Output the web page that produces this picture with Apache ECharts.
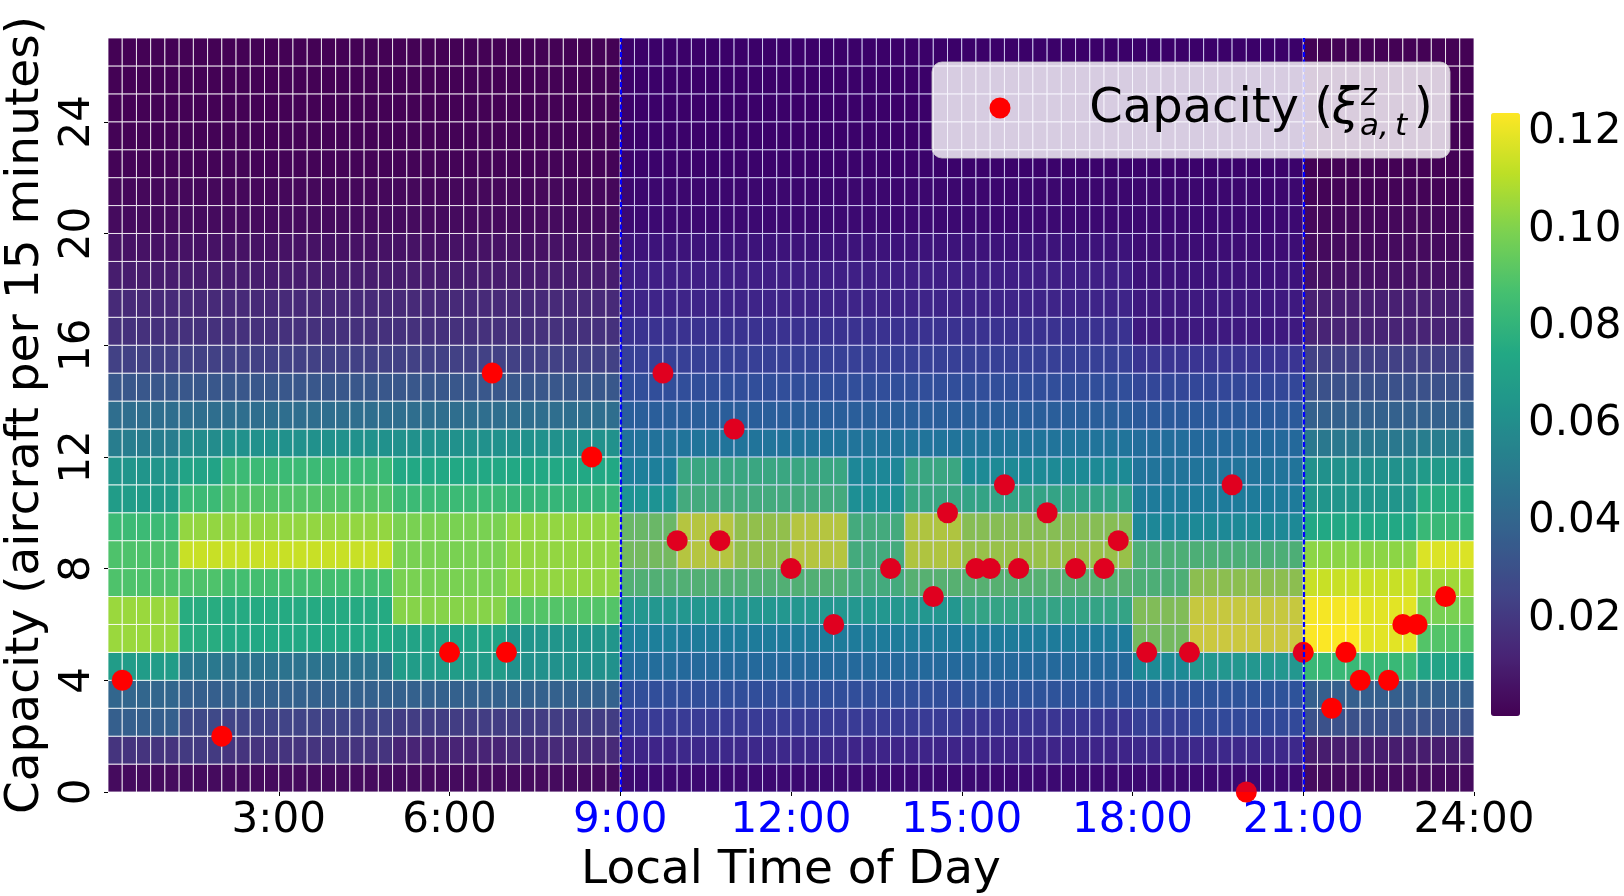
<!DOCTYPE html>
<html>
<head>
<meta charset="utf-8">
<title>Capacity distribution by local time of day</title>
<script src="https://cdn.jsdelivr.net/npm/echarts@6/dist/echarts.min.js"></script>
<style>
  html, body { margin: 0; padding: 0; background: #fff; }
  #chart { width: 1624px; height: 896px; }
</style>
</head>
<body>
<div id="chart"></div>
<script>
// hours at which the capacity distribution changes (each block runs to the next start, last to 24:00)
var blockStarts = [0, 1.25, 2, 5, 7, 9, 10, 11, 12, 13, 14, 15, 18, 19, 21, 22, 23];

// probability for capacity rows 0..12, one array per block
var low0000 = [0.0037, 0.0185, 0.0371, 0.0408, 0.0680, 0.1051, 0.1051, 0.0890, 0.0890, 0.0840, 0.0680, 0.0643, 0.0519];
var low0115 = [0.0037, 0.0210, 0.0272, 0.0371, 0.0494, 0.0766, 0.0766, 0.0890, 0.1137, 0.1038, 0.0840, 0.0717, 0.0593];
var low0200 = [0.0037, 0.0185, 0.0247, 0.0383, 0.0470, 0.0742, 0.0754, 0.0865, 0.1137, 0.1038, 0.0902, 0.0840, 0.0618];
var low0500 = [0.0037, 0.0124, 0.0222, 0.0383, 0.0680, 0.0717, 0.1014, 0.0989, 0.0989, 0.0989, 0.0840, 0.0742, 0.0618];
var low0700 = [0.0037, 0.0148, 0.0222, 0.0383, 0.0618, 0.0643, 0.0902, 0.1038, 0.1038, 0.1038, 0.0816, 0.0742, 0.0618];
var low0900 = [0.0037, 0.0148, 0.0247, 0.0346, 0.0519, 0.0618, 0.0766, 0.0927, 0.1014, 0.0989, 0.0742, 0.0618, 0.0544];
var low1000 = [0.0037, 0.0161, 0.0247, 0.0346, 0.0494, 0.0593, 0.0766, 0.0927, 0.1149, 0.1149, 0.0890, 0.0865, 0.0556];
var low1100 = [0.0037, 0.0161, 0.0247, 0.0346, 0.0494, 0.0593, 0.0766, 0.0927, 0.1075, 0.1075, 0.0890, 0.0865, 0.0556];
var low1200 = [0.0037, 0.0161, 0.0247, 0.0346, 0.0494, 0.0593, 0.0766, 0.0927, 0.1149, 0.1149, 0.0890, 0.0865, 0.0556];
var low1300 = [0.0037, 0.0148, 0.0247, 0.0346, 0.0494, 0.0593, 0.0766, 0.0890, 0.0890, 0.0890, 0.0717, 0.0667, 0.0556];
var low1400 = [0.0037, 0.0148, 0.0247, 0.0346, 0.0494, 0.0593, 0.0766, 0.0939, 0.1137, 0.1137, 0.0865, 0.0865, 0.0556];
var low1500 = [0.0037, 0.0148, 0.0222, 0.0371, 0.0494, 0.0593, 0.0840, 0.0939, 0.1088, 0.1051, 0.0840, 0.0692, 0.0556];
var low1800 = [0.0037, 0.0161, 0.0272, 0.0371, 0.0692, 0.1014, 0.1038, 0.0915, 0.0915, 0.0667, 0.0593, 0.0556, 0.0519];
var low1900 = [0.0037, 0.0161, 0.0321, 0.0371, 0.0766, 0.1199, 0.1187, 0.1063, 0.0915, 0.0680, 0.0593, 0.0556, 0.0494];
var low2100 = [0.0037, 0.0099, 0.0309, 0.0371, 0.0828, 0.1236, 0.1224, 0.1137, 0.1026, 0.0742, 0.0643, 0.0618, 0.0494];
var low2200 = [0.0037, 0.0099, 0.0309, 0.0371, 0.0828, 0.1187, 0.1187, 0.1137, 0.1026, 0.0742, 0.0643, 0.0618, 0.0494];
var low2300 = [0.0037, 0.0099, 0.0309, 0.0371, 0.0717, 0.0902, 0.0989, 0.1063, 0.1174, 0.0828, 0.0766, 0.0667, 0.0519];

// probability for capacity rows 13..26
var nightTail   = [0.0445, 0.0334, 0.0235, 0.0173, 0.0148, 0.0099, 0.0062, 0.0037, 0.0025, 0.0012, 0.0006, 0.0004, 0.0003, 0.0002];
var dayTail     = [0.0433, 0.0346, 0.0272, 0.0210, 0.0148, 0.0124, 0.0074, 0.0037, 0.0025, 0.0012, 0.0006, 0.0004, 0.0003, 0.0002];
var eveningTail = [0.0408, 0.0309, 0.0222, 0.0099, 0.0099, 0.0074, 0.0049, 0.0037, 0.0025, 0.0012, 0.0006, 0.0004, 0.0003, 0.0002];
var lateTail    = [0.0383, 0.0309, 0.0235, 0.0124, 0.0111, 0.0062, 0.0037, 0.0025, 0.0012, 0.0004, 0.0003, 0.0002, 0.0002, 0.0002];

var blockLows = [low0000, low0115, low0200, low0500, low0700, low0900, low1000, low1100, low1200,
                 low1300, low1400, low1500, low1800, low1900, low2100, low2200, low2300];
var blockTails = [nightTail, nightTail, nightTail, nightTail, nightTail,
                  dayTail, dayTail, dayTail, dayTail, dayTail, dayTail, dayTail,
                  eveningTail, eveningTail, lateTail, lateTail, lateTail];

// observed capacity points (red dots)
var capTimes  = [0.25, 2, 6, 6.75, 7, 8.5, 9.75, 10, 10.75, 11, 12, 12.75, 13.75, 14.5, 14.75, 15.25, 15.5, 15.75,
                 16, 16.5, 17, 17.5, 17.75, 18.25, 19, 19.75, 20, 21, 21.5, 21.75, 22, 22.5, 22.75, 23, 23.5];
var capValues = [4, 2, 5, 15, 5, 12, 15, 9, 9, 13, 8, 6, 8, 7, 10, 8, 8, 11,
                 8, 10, 8, 8, 9, 5, 5, 11, 0, 5, 3, 5, 4, 4, 6, 6, 7];

var peakHours = [9, 21];
var xTicks = [3, 6, 9, 12, 15, 18, 21, 24];
var yTicks = [0, 4, 8, 12, 16, 20, 24];
var cbTicks = [0.02, 0.04, 0.06, 0.08, 0.10, 0.12];

var viridis = ['#440154', '#482475', '#414487', '#355f8d', '#2a788e', '#21918c',
               '#22a884', '#44bf70', '#7ad151', '#bddf26', '#fde725'];

var cells = [];
blockStarts.forEach(function (start, b) {
  var end = b + 1 < blockStarts.length ? blockStarts[b + 1] : 24;
  var profile = blockLows[b].concat(blockTails[b]);
  for (var t = start; t < end - 1e-9; t += 0.25) {
    profile.forEach(function (v, row) { cells.push([t, row, v]); });
  }
});

var points = capTimes.map(function (t, i) { return [t, capValues[i]]; });

var font = 'DejaVu Sans';
var chart = echarts.init(document.getElementById('chart'));

chart.setOption({
  animation: false,
  backgroundColor: '#fff',
  grid: [
    { left: 108, top: 38, width: 1366, height: 754, outerBoundsMode: 'none' },
    { left: 1491, top: 113, width: 29, height: 603, outerBoundsMode: 'none' }
  ],
  xAxis: [{
    type: 'value', gridIndex: 0, min: 0, max: 24,
    name: 'Local Time of Day', nameLocation: 'middle', nameGap: 48,
    nameTextStyle: { fontSize: 47, color: '#000', fontFamily: font },
    axisLine: { show: false },
    splitLine: { show: false },
    axisTick: { show: true, length: 4, customValues: xTicks, lineStyle: { color: '#000' } },
    axisLabel: {
      customValues: xTicks, margin: 8, fontSize: 42, fontFamily: font, color: '#000',
      formatter: function (v) {
        var peak = v >= peakHours[0] && v <= peakHours[1];
        return (peak ? '{b|' : '{k|') + v + ':00}';
      },
      rich: {
        b: { color: '#0000ff', fontSize: 42, fontFamily: font },
        k: { color: '#000', fontSize: 42, fontFamily: font }
      }
    }
  }, {
    type: 'value', gridIndex: 1, show: false, min: 0, max: 1
  }],
  yAxis: [{
    type: 'value', gridIndex: 0, min: 0, max: 27,
    name: 'Capacity (aircraft per 15 minutes)', nameLocation: 'middle', nameGap: 54,
    nameTextStyle: { fontSize: 47, color: '#000', fontFamily: font },
    axisLine: { show: false },
    splitLine: { show: false },
    axisTick: { show: true, length: 4, customValues: yTicks, lineStyle: { color: '#000' } },
    axisLabel: { customValues: yTicks, rotate: 90, margin: 9, fontSize: 42, fontFamily: font, color: '#000' }
  }, {
    type: 'value', gridIndex: 1, position: 'right', min: 0, max: 0.124,
    axisLine: { show: false },
    splitLine: { show: false },
    axisTick: { show: true, length: 4, customValues: cbTicks, lineStyle: { color: '#000' } },
    axisLabel: {
      customValues: cbTicks, margin: 8, fontSize: 42, fontFamily: font, color: '#000',
      formatter: function (v) { return v.toFixed(2); }
    }
  }],
  visualMap: {
    type: 'continuous', min: 0, max: 0.124, dimension: 2, seriesIndex: 0,
    calculable: false, orient: 'vertical', left: 1491, top: 113, padding: 0,
    itemWidth: 29, itemHeight: 603, text: null,
    inRange: { color: viridis }
  },
  series: [{
    type: 'custom', name: 'probability', xAxisIndex: 0, yAxisIndex: 0, z: 1,
    clip: true, silent: true,
    encode: { x: 0, y: 1 },
    data: cells,
    renderItem: function (params, api) {
      var x = api.value(0), y = api.value(1);
      var p0 = api.coord([x, y + 1]);
      var p1 = api.coord([x + 0.25, y]);
      return {
        type: 'rect',
        shape: { x: p0[0], y: p0[1], width: p1[0] - p0[0], height: p1[1] - p0[1] },
        style: { fill: api.visual('color'), stroke: 'rgba(255,255,255,0.8)', lineWidth: 1 }
      };
    }
  }, {
    type: 'scatter', name: 'Capacity', xAxisIndex: 0, yAxisIndex: 0, z: 2,
    symbol: 'circle', symbolSize: 21,
    itemStyle: { color: '#ff0000', opacity: 1 },
    data: points
  }, {
    type: 'custom', name: 'peak', xAxisIndex: 0, yAxisIndex: 0, z: 3,
    silent: true, clip: true,
    data: [[peakHours[0], peakHours[1]]],
    renderItem: function (params, api) {
      var p0 = api.coord([api.value(0), 27]);
      var p1 = api.coord([api.value(1), 0]);
      return {
        type: 'rect',
        shape: { x: p0[0], y: p0[1], width: p1[0] - p0[0], height: p1[1] - p0[1] },
        style: { fill: 'rgba(0,0,255,0.12)' }
      };
    },
    markLine: {
      silent: true, symbol: 'none', label: { show: false },
      lineStyle: { color: '#0000ff', width: 2.2, type: [5, 2.5], opacity: 1 },
      data: peakHours.map(function (h) { return { xAxis: h }; })
    }
  }],
  graphic: [{
    type: 'rect', z: 100,
    shape: { x: 932, y: 62, width: 518, height: 96, r: 10 },
    style: { fill: 'rgba(255,255,255,0.8)', stroke: 'rgba(204,204,204,0.8)', lineWidth: 1 }
  }, {
    type: 'circle', z: 101,
    shape: { cx: 1000, cy: 108, r: 10.5 },
    style: { fill: '#ff0000' }
  }, {
    type: 'text', z: 101, x: 1333, y: 110,
    style: { text: 'Capacity (', fontSize: 48, fontFamily: font, fill: '#000', align: 'right', verticalAlign: 'middle' }
  }, {
    type: 'text', z: 101, x: 1332, y: 110,
    style: { text: '\u03be', fontSize: 49, fontStyle: 'italic', fontFamily: font, fill: '#000', align: 'left', verticalAlign: 'middle' }
  }, {
    type: 'text', z: 101, x: 1361, y: 97,
    style: { text: 'z', fontSize: 30, fontStyle: 'italic', fontFamily: font, fill: '#000', align: 'left', verticalAlign: 'middle' }
  }, {
    type: 'text', z: 101, x: 1360, y: 127,
    style: { text: 'a,\u2009t', fontSize: 31, fontStyle: 'italic', fontFamily: font, fill: '#000', align: 'left', verticalAlign: 'middle' }
  }, {
    type: 'text', z: 101, x: 1414, y: 110,
    style: { text: ')', fontSize: 48, fontFamily: font, fill: '#000', align: 'left', verticalAlign: 'middle' }
  }]
});
</script>
</body>
</html>
